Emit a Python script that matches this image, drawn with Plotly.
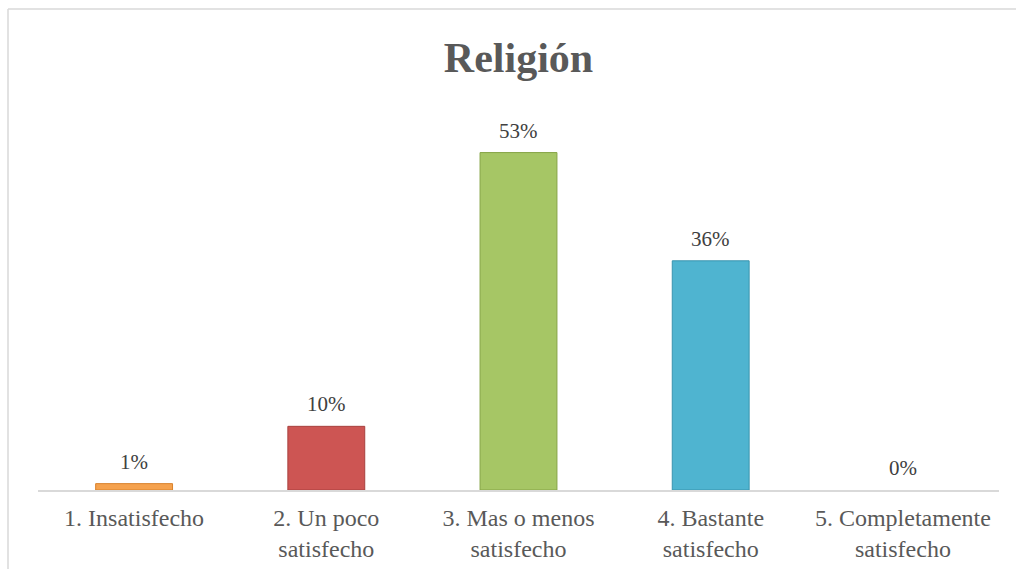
import plotly.graph_objects as go

categories = ["1. Insatisfecho", "2. Un poco<br>satisfecho", "3. Mas o menos<br>satisfecho",
              "4. Bastante<br>satisfecho", "5. Completamente<br>satisfecho"]
values = [1, 10, 53, 36, 0]
labels = ["1%", "10%", "53%", "36%", "0%"]
colors = ["#F5A24E", "#CD5553", "#A6C665", "#4FB4D0", "#8064A2"]
edge_colors = ["#D9822B", "#A8403E", "#86A446", "#3894AE", "#8064A2"]
edge_widths = [1 if v > 0 else 0 for v in values]

W, H = 1016, 569
L, R, T, B = 38, 17, 108, 79

fig = go.Figure()
fig.add_trace(go.Bar(
    x=categories, y=values,
    marker=dict(color=colors, line=dict(color=edge_colors, width=edge_widths)),
    hoverinfo="skip",
))

for c, v, t in zip(categories, values, labels):
    fig.add_annotation(x=c, y=v, text=t, showarrow=False, yanchor="bottom",
                       yshift=8, font=dict(family="Liberation Serif", size=21, color="#404040"))

pw = W - L - R
ph = H - T - B
def px_x(p):
    return (p - L) / pw
def px_y(p):
    return (H - B - p) / ph

fig.add_shape(type="line", xref="paper", yref="paper",
              x0=px_x(8), x1=px_x(W + 5), y0=px_y(9), y1=px_y(9),
              line=dict(color="#D9D9D9", width=1.5))
fig.add_shape(type="line", xref="paper", yref="paper",
              x0=px_x(8), x1=px_x(8), y0=px_y(9), y1=px_y(H + 5),
              line=dict(color="#D9D9D9", width=1.5))

fig.update_layout(
    width=W, height=H,
    margin=dict(l=L, r=R, t=T, b=B),
    paper_bgcolor="white", plot_bgcolor="white",
    bargap=0.6,
    showlegend=False,
    title=dict(text="<b>Religión</b>", x=(L + pw / 2) / W, xanchor="center",
               y=1 - 57 / H, yanchor="middle",
               font=dict(family="Liberation Serif", size=42, color="#595959")),
    xaxis=dict(showline=True, linecolor="#D9D9D9", linewidth=2, ticks="",
               ticklabelstandoff=5, automargin=False,
               tickfont=dict(family="Liberation Serif", size=24, color="#595959"),
               showgrid=False, zeroline=False),
    yaxis=dict(range=[0, 60], visible=False, showgrid=False, zeroline=False,
               automargin=False),
)

fig.write_html("out.html", config={"displayModeBar": False},
               post_script="document.body.style.margin='0';")
